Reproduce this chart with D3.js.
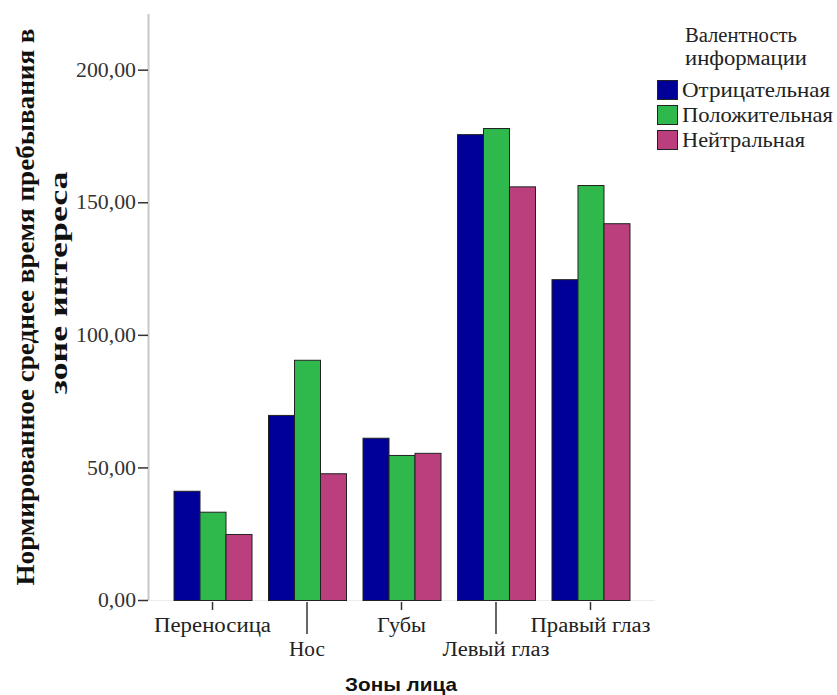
<!DOCTYPE html>
<html><head><meta charset="utf-8">
<script src="https://cdn.jsdelivr.net/npm/d3@7"></script>
<style>body{margin:0;background:#fff}</style>
</head><body>
<svg id="c" width="837" height="695"></svg>
<script>
const categories = ["Переносица","Нос","Губы","Левый глаз","Правый глаз"];
const seriesNames = ["Отрицательная","Положительная","Нейтральная"];
const negative = [41.2, 69.8, 61.2, 175.7, 121.0];
const positive = [33.3, 90.6, 54.7, 178.0, 156.5];
const neutral  = [24.9, 47.8, 55.5, 156.0, 142.1];
const yTicks = [0, 50, 100, 150, 200];
const colors = ["#000099", "#2fb84b", "#bb3f7d"];

// measured text widths in the reference (the original rendering is horizontally wider)
const catWidths = [117, 36, 49, 107, 120];
const seriesWidths = [148, 151, 123];

const svg = d3.select("#c");
const series = [negative, positive, neutral];
const y = d3.scaleLinear().domain([0, 221]).range([600, 14]);
const x = d3.scaleBand().domain(categories).range([148, 655]).paddingInner(0.1746).paddingOuter(0.27);
const xs = d3.scaleBand().domain(seriesNames).range([0, x.bandwidth()]);

// baseline
svg.append("line").attr("x1",148).attr("x2",655).attr("y1",y(0)+0.5).attr("y2",y(0)+0.5).attr("stroke","#ececec");

// bars
categories.forEach((c,i)=>{
  seriesNames.forEach((s,j)=>{
    svg.append("rect")
      .attr("x", x(c)+xs(s)+0.5).attr("y", y(series[j][i])+0.5)
      .attr("width", xs.bandwidth()).attr("height", y(0)-y(series[j][i]))
      .attr("fill", colors[j]).attr("stroke","#222").attr("stroke-width",1);
  });
});

// y axis
const fmt = d=>d3.format(".2f")(d).replace(".",",");
const yAxis = d3.axisLeft(y).tickValues(yTicks).tickSize(10).tickPadding(2).tickFormat(fmt);
const ga = svg.append("g").attr("transform","translate(148,0)").call(yAxis);
ga.select(".domain").attr("d","M0.5,14V600").attr("stroke","#c8c8c8").attr("stroke-width",2);
ga.selectAll(".tick line").attr("stroke","#333").attr("stroke-width",1.5);
ga.selectAll(".tick text").attr("font-family","'Liberation Serif', serif").attr("font-size",21).attr("fill","#333")
  .attr("textLength", d=>{const s=fmt(d); return (s.length-1)*11+5;}).attr("lengthAdjust","spacingAndGlyphs");

// x ticks & labels
categories.forEach((c,i)=>{
  const cx = x(c)+x.bandwidth()/2;
  const long = i%2===1;
  svg.append("line").attr("x1",cx).attr("x2",cx).attr("y1",602).attr("y2", long?634:610)
    .attr("stroke","#333").attr("stroke-width",1.5);
  svg.append("text").attr("x",cx).attr("y", long?649:625).attr("dy","0.35em")
    .attr("text-anchor","middle").attr("font-family","'Liberation Serif', serif").attr("font-size",20).attr("fill","#222")
    .attr("textLength", catWidths[i]).attr("lengthAdjust","spacingAndGlyphs")
    .text(c);
});

// axis titles
svg.append("text").attr("x",401).attr("y",684).attr("dy","0.35em").attr("text-anchor","middle")
  .attr("font-family","'Liberation Sans', sans-serif").attr("font-weight","bold").attr("font-size",19).attr("fill","#111")
  .attr("textLength",112).attr("lengthAdjust","spacingAndGlyphs")
  .text("Зоны лица");
svg.append("text").attr("transform","translate(25,307) rotate(-90)").attr("dy","0.35em").attr("text-anchor","middle")
  .attr("font-family","'Liberation Serif', serif").attr("font-weight","bold").attr("font-size",25).attr("fill","#111")
  .attr("textLength",557).attr("lengthAdjust","spacingAndGlyphs")
  .text("Нормированное среднее время пребывания в");
svg.append("text").attr("transform","translate(58,283) rotate(-90)").attr("dy","0.35em").attr("text-anchor","middle")
  .attr("font-family","'Liberation Serif', serif").attr("font-weight","bold").attr("font-size",25).attr("fill","#111")
  .attr("textLength",223).attr("lengthAdjust","spacingAndGlyphs")
  .text("зоне интереса");

// legend
const lg = svg.append("g");
[["Валентность",35,112],["информации",58,122]].forEach(([t,yy,w])=>{
  lg.append("text").attr("x",685).attr("y",yy).attr("dy","0.35em")
    .attr("font-family","'Liberation Serif', serif").attr("font-size",20).attr("fill","#222")
    .attr("textLength",w).attr("lengthAdjust","spacingAndGlyphs").text(t);
});
seriesNames.forEach((s,j)=>{
  const yy = 80 + j*25;
  lg.append("rect").attr("x",657.5).attr("y",yy+0.5).attr("width",20).attr("height",19)
    .attr("fill",colors[j]).attr("stroke","#222").attr("stroke-width",1);
  lg.append("text").attr("x",682).attr("y",yy+10).attr("dy","0.35em")
    .attr("font-family","'Liberation Serif', serif").attr("font-size",21).attr("fill","#222")
    .attr("textLength",seriesWidths[j]).attr("lengthAdjust","spacingAndGlyphs").text(s);
});
</script>
</body></html>
